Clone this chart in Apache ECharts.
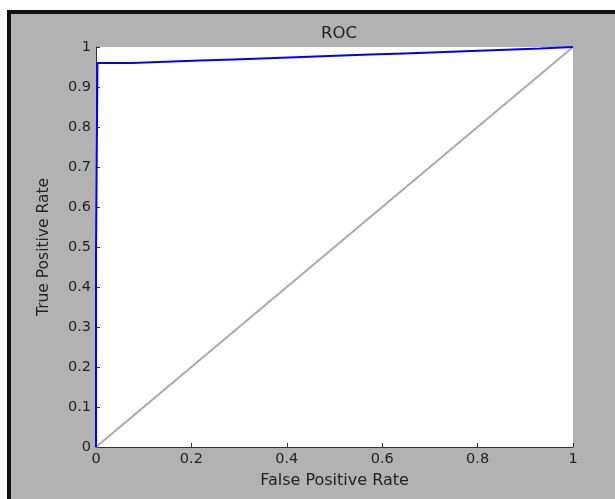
<!DOCTYPE html>
<html>
<head>
<meta charset="utf-8">
<script src="https://cdn.jsdelivr.net/npm/echarts@6/dist/echarts.min.js"></script>
<style>
  html, body { margin: 0; padding: 0; background: #ffffff; width: 615px; height: 499px; overflow: hidden; }
  #bg { position: absolute; left: 7px; top: 10px; width: 620px; height: 500px; background: #b2b2b2; border-left: 4px solid #111; border-top: 4px solid #111; }
  #chart { position: absolute; left: 0; top: 0; width: 615px; height: 499px; }
</style>
</head>
<body>
<div id="bg"></div>
<div id="chart"></div>
<script>
// ROC curve vertices (False Positive Rate, True Positive Rate)
const rocFPR = [0, 0, 0.003, 0.003, 0.0755, 0.0755, 0.1468, 0.1468, 0.218, 0.218, 0.289, 0.289, 0.361, 0.361, 0.432, 0.432, 0.503, 0.503, 0.574, 0.574, 0.646, 0.646, 0.717, 0.717, 0.788, 0.788, 0.860, 0.860, 0.931, 0.931, 1];
const rocTPR = [0, 0.48, 0.48, 0.96, 0.96, 0.963, 0.963, 0.966, 0.966, 0.969, 0.969, 0.972, 0.972, 0.975, 0.975, 0.978, 0.978, 0.981, 0.981, 0.984, 0.984, 0.987, 0.987, 0.990, 0.990, 0.993, 0.993, 0.996, 0.996, 0.999, 1];
// Chance diagonal
const diagFPR = [0, 1];
const diagTPR = [0, 1];
const xTicks = [0, 0.2, 0.4, 0.6, 0.8, 1];
const yTicks = [0, 0.1, 0.2, 0.3, 0.4, 0.5, 0.6, 0.7, 0.8, 0.9, 1];
const titleText = 'ROC';
const xName = 'False Positive Rate';
const yName = 'True Positive Rate';

const chart = echarts.init(document.getElementById('chart'), null, { renderer: 'canvas' });
const font = '"DejaVu Sans", Arial, sans-serif';
chart.setOption({
  backgroundColor: 'transparent',
  animation: false,
  title: {
    text: titleText, left: 334, top: 20, textAlign: 'center',
    textStyle: { fontFamily: font, fontSize: 16.5, fontWeight: 'normal', color: '#222' }
  },
  grid: { left: 96, right: 42, top: 47, bottom: 52, show: true, backgroundColor: '#ffffff', borderWidth: 0, containLabel: false },
  xAxis: {
    type: 'value', min: 0, max: 1, interval: 0.2,
    name: xName, nameLocation: 'middle', nameGap: 26,
    nameTextStyle: { fontFamily: font, fontSize: 16, color: '#222' },
    axisLine: { show: true, lineStyle: { color: '#333', width: 1 } },
    axisTick: { show: true, inside: true, length: 4, lineStyle: { color: '#333' } },
    axisLabel: { fontFamily: font, fontSize: 14.5, color: '#222', margin: 5, formatter: v => String(+v.toFixed(1)) },
    splitLine: { show: false }
  },
  yAxis: {
    type: 'value', min: 0, max: 1, interval: 0.1,
    name: yName, nameLocation: 'middle', nameGap: 44, nameRotate: 90,
    nameTextStyle: { fontFamily: font, fontSize: 15.5, color: '#222' },
    axisLine: { show: true, lineStyle: { color: '#333', width: 1 } },
    axisTick: { show: true, inside: true, length: 4, lineStyle: { color: '#333' } },
    axisLabel: { fontFamily: font, fontSize: 14.5, color: '#222', margin: 5, formatter: v => String(+v.toFixed(1)) },
    splitLine: { show: false }
  },
  series: [
    {
      type: 'line', data: diagFPR.map((x, i) => [x, diagTPR[i]]),
      symbol: 'none', clip: false, z: 2,
      lineStyle: { color: '#aaaaaa', width: 2 }
    },
    {
      type: 'line', data: rocFPR.map((x, i) => [x, rocTPR[i]]),
      symbol: 'none', clip: false, z: 3,
      lineStyle: { color: '#0000ff', width: 2 }
    }
  ]
});
</script>
</body>
</html>
